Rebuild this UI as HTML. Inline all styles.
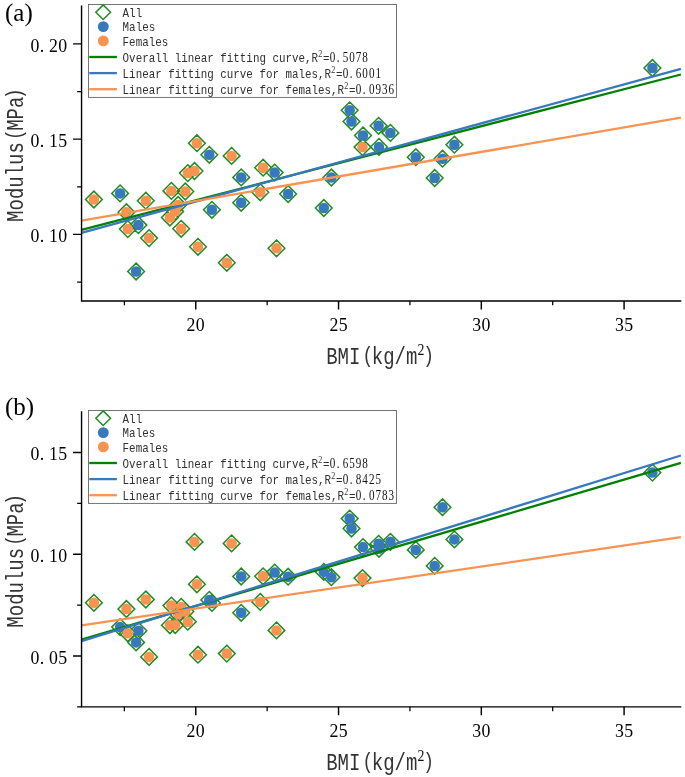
<!DOCTYPE html>
<html lang="en">
<head>
<meta charset="utf-8">
<title>Modulus vs BMI</title>
<style>
html,body{margin:0;padding:0;background:#fff;}
body{width:685px;height:777px;overflow:hidden;}
svg{display:block;}
text{font-family:"Liberation Serif", serif;fill:#000;}
.sp{stroke:#000;stroke-width:1.4;fill:none;stroke-linecap:square;}
.tk{stroke:#000;stroke-width:1.45;fill:none;}
.mt{stroke:#000;stroke-width:1.25;fill:none;}
.dm{fill:none;stroke:#228b22;stroke-width:1.5;stroke-linejoin:miter;}
.m{fill:#3878bc;}
.fm{fill:#f89352;}
.ln{fill:none;stroke-width:2.3;stroke-linecap:butt;}
.lg{fill:#fff;stroke:#666;stroke-width:0.9;}
.lt{font-family:"Liberation Mono", monospace;fill:#303030;}
.sup{font-family:"Liberation Serif", serif;font-size:10px;}
.dg{font-family:"Liberation Serif", serif;font-size:13.7px;fill:#111;}
.pr{font-size:22.5px;}
.s2{font-family:"Liberation Serif", serif;font-size:17.5px;fill:#111;}
.al{font-family:"Liberation Mono", monospace;fill:#333;}
</style>
</head>
<body>
<svg width="685" height="777" viewBox="0 0 685 777">
<rect width="685" height="777" fill="#fff"/>
<g id="plot-a">
<path class="dm" d="M93.9 191.15L102.25 199.5L93.9 207.85L85.55 199.5Z M120.1 185.05L128.45 193.4L120.1 201.75L111.75 193.4Z M126.4 203.85L134.75 212.2L126.4 220.55L118.05 212.2Z M127.8 220.75L136.15 229.1L127.8 237.45L119.45 229.1Z M136.1 263.15L144.45 271.5L136.1 279.85L127.75 271.5Z M138.4 216.75L146.75 225.1L138.4 233.45L130.05 225.1Z M145.8 192.35L154.15 200.7L145.8 209.05L137.45 200.7Z M149.1 229.75L157.45 238.1L149.1 246.45L140.75 238.1Z M169.9 209.15L178.25 217.5L169.9 225.85L161.55 217.5Z M171.4 182.55L179.75 190.9L171.4 199.25L163.05 190.9Z M175.2 203.05L183.55 211.4L175.2 219.75L166.85 211.4Z M178.1 196.65L186.45 205L178.1 213.35L169.75 205Z M181.2 220.45L189.55 228.8L181.2 237.15L172.85 228.8Z M185.3 183.15L193.65 191.5L185.3 199.85L176.95 191.5Z M187.8 164.75L196.15 173.1L187.8 181.45L179.45 173.1Z M194.5 162.65L202.85 171L194.5 179.35L186.15 171Z M196.9 134.85L205.25 143.2L196.9 151.55L188.55 143.2Z M198 238.45L206.35 246.8L198 255.15L189.65 246.8Z M209.3 146.45L217.65 154.8L209.3 163.15L200.95 154.8Z M211.9 201.45L220.25 209.8L211.9 218.15L203.55 209.8Z M226.8 254.45L235.15 262.8L226.8 271.15L218.45 262.8Z M231.6 147.55L239.95 155.9L231.6 164.25L223.25 155.9Z M241.2 169.05L249.55 177.4L241.2 185.75L232.85 177.4Z M241.2 194.45L249.55 202.8L241.2 211.15L232.85 202.8Z M260.3 183.95L268.65 192.3L260.3 200.65L251.95 192.3Z M263.1 159.35L271.45 167.7L263.1 176.05L254.75 167.7Z M274.7 164.25L283.05 172.6L274.7 180.95L266.35 172.6Z M276.5 239.95L284.85 248.3L276.5 256.65L268.15 248.3Z M288.1 185.65L296.45 194L288.1 202.35L279.75 194Z M323.8 199.65L332.15 208L323.8 216.35L315.45 208Z M331.4 169.15L339.75 177.5L331.4 185.85L323.05 177.5Z M349.7 101.95L358.05 110.3L349.7 118.65L341.35 110.3Z M351.5 113.15L359.85 121.5L351.5 129.85L343.15 121.5Z M362.5 138.75L370.85 147.1L362.5 155.45L354.15 147.1Z M363 127.15L371.35 135.5L363 143.85L354.65 135.5Z M378.6 117.45L386.95 125.8L378.6 134.15L370.25 125.8Z M379 138.55L387.35 146.9L379 155.25L370.65 146.9Z M390.4 124.55L398.75 132.9L390.4 141.25L382.05 132.9Z M415.8 148.85L424.15 157.2L415.8 165.55L407.45 157.2Z M434.7 169.65L443.05 178L434.7 186.35L426.35 178Z M442.5 150.35L450.85 158.7L442.5 167.05L434.15 158.7Z M454.4 136.35L462.75 144.7L454.4 153.05L446.05 144.7Z M652.4 59.65L660.75 68L652.4 76.35L644.05 68Z"/>
<g class="m">
<circle cx="120.1" cy="193.4" r="5.25"/>
<circle cx="136.1" cy="271.5" r="5.25"/>
<circle cx="138.4" cy="225.1" r="5.25"/>
<circle cx="209.3" cy="154.8" r="5.25"/>
<circle cx="211.9" cy="209.8" r="5.25"/>
<circle cx="241.2" cy="177.4" r="5.25"/>
<circle cx="241.2" cy="202.8" r="5.25"/>
<circle cx="274.7" cy="172.6" r="5.25"/>
<circle cx="288.1" cy="194" r="5.25"/>
<circle cx="323.8" cy="208" r="5.25"/>
<circle cx="331.4" cy="177.5" r="5.25"/>
<circle cx="349.7" cy="110.3" r="5.25"/>
<circle cx="351.5" cy="121.5" r="5.25"/>
<circle cx="363" cy="135.5" r="5.25"/>
<circle cx="378.6" cy="125.8" r="5.25"/>
<circle cx="379" cy="146.9" r="5.25"/>
<circle cx="390.4" cy="132.9" r="5.25"/>
<circle cx="415.8" cy="157.2" r="5.25"/>
<circle cx="434.7" cy="178" r="5.25"/>
<circle cx="442.5" cy="158.7" r="5.25"/>
<circle cx="454.4" cy="144.7" r="5.25"/>
<circle cx="652.4" cy="68" r="5.25"/>
</g>
<g class="fm">
<circle cx="93.9" cy="199.5" r="5.25"/>
<circle cx="126.4" cy="212.2" r="5.25"/>
<circle cx="127.8" cy="229.1" r="5.25"/>
<circle cx="145.8" cy="200.7" r="5.25"/>
<circle cx="149.1" cy="238.1" r="5.25"/>
<circle cx="169.9" cy="217.5" r="5.25"/>
<circle cx="171.4" cy="190.9" r="5.25"/>
<circle cx="175.2" cy="211.4" r="5.25"/>
<circle cx="178.1" cy="205" r="5.25"/>
<circle cx="181.2" cy="228.8" r="5.25"/>
<circle cx="185.3" cy="191.5" r="5.25"/>
<circle cx="187.8" cy="173.1" r="5.25"/>
<circle cx="194.5" cy="171" r="5.25"/>
<circle cx="196.9" cy="143.2" r="5.25"/>
<circle cx="198" cy="246.8" r="5.25"/>
<circle cx="226.8" cy="262.8" r="5.25"/>
<circle cx="231.6" cy="155.9" r="5.25"/>
<circle cx="260.3" cy="192.3" r="5.25"/>
<circle cx="263.1" cy="167.7" r="5.25"/>
<circle cx="276.5" cy="248.3" r="5.25"/>
<circle cx="362.5" cy="147.1" r="5.25"/>
</g>
<path class="ln" stroke="#008000" d="M81.55 229.8L680.9 74.5"/>
<path class="ln" stroke="#3878bc" d="M81.55 232.8L680.9 68.8"/>
<path class="ln" stroke="#f89352" d="M81.55 220.7L680.9 117.6"/>
<path class="sp" d="M81.55 6.1L81.55 300.95L680.6 300.95"/>
<path class="tk" d="M81.55 234.38h-8.5M81.55 139.12h-8.5M81.55 43.88h-8.5M195.77 300.95v8.5M338.54 300.95v8.5M481.32 300.95v8.5M624.09 300.95v8.5"/>
<path class="mt" d="M81.55 282h-4.4M81.55 186.75h-4.4M81.55 91.5h-4.4M124.38 300.95v4.3M267.16 300.95v4.3M409.93 300.95v4.3M552.7 300.95v4.3"/>
<g font-size="17.8">
<text x="30.4 39.65 48.9 58.15" y="242.28">0.10</text>
<text x="30.4 39.65 48.9 58.15" y="147.03">0.15</text>
<text x="30.4 39.65 48.9 58.15" y="51.77">0.20</text>
<text x="186.62 195.87" y="331.25">20</text>
<text x="329.39 338.64" y="331.25">25</text>
<text x="472.17 481.42" y="331.25">30</text>
<text x="614.94 624.19" y="331.25">35</text>
</g>
<text class="al" transform="translate(326.2 364.15) scale(0.7915 1)" font-size="24">BMI<tspan class="pr" dx="2.85" dy="-1.8">(</tspan><tspan dx="-1.95" dy="1.8">kg/m</tspan><tspan class="s2" dx="0.2" dy="-8.8">2</tspan><tspan class="pr" dx="-1.6" dy="7">)</tspan></text>
<text class="al" transform="translate(22.5 221.9) rotate(-90) scale(0.7915 1)" font-size="24">Modulus<tspan class="pr" dx="2.85" dy="-1.8">(</tspan><tspan dx="-1.95" dy="1.8">MPa</tspan><tspan class="pr" dx="-3.15" dy="-1.8">)</tspan></text>
<text x="5" y="21.2" font-size="25">(a)</text>
<g id="legend-a">
<rect class="lg" x="88.5" y="4.5" width="308" height="92.9"/>
<path class="dm" d="M103.2 4.85L110.55 12.2L103.2 19.55L95.85 12.2Z"/>
<circle class="m" cx="103.3" cy="26.6" r="5.45"/>
<circle class="fm" cx="103.3" cy="40.9" r="5.45"/>
<path class="ln" stroke="#008000" d="M89.3 57H116.9"/>
<path class="ln" stroke="#3878bc" d="M89.3 73.1H116.9"/>
<path class="ln" stroke="#f89352" d="M89.3 89.2H116.9"/>
<text class="lt" transform="translate(122.6 16.9) scale(0.8108 1)" font-size="13.4">All</text>
<text class="lt" transform="translate(122.6 31.3) scale(0.8108 1)" font-size="13.4">Males</text>
<text class="lt" transform="translate(122.6 45.7) scale(0.8108 1)" font-size="13.4">Females</text>
<text class="lt" transform="translate(122.6 61.6) scale(0.8108 1)" font-size="13.4">Overall linear fitting curve,R<tspan class="sup" dx="0.3" dy="-4.6">2</tspan><tspan x="247.03" dy="4.6">=</tspan><tspan class="dg" x="255.52 264.01 271.6 279.64 287.69 295.73">0.5078</tspan></text>
<text class="lt" transform="translate(122.6 77.8) scale(0.8108 1)" font-size="13.4">Linear fitting curve for males,R<tspan class="sup" dx="0.3" dy="-4.6">2</tspan><tspan x="263.11" dy="4.6">=</tspan><tspan class="dg" x="271.6 280.09 287.69 295.73 303.77 311.81">0.6001</tspan></text>
<text class="lt" transform="translate(122.6 94) scale(0.8108 1)" font-size="13.4">Linear fitting curve for females,R<tspan class="sup" dx="0.3" dy="-4.6">2</tspan><tspan x="279.19" dy="4.6">=</tspan><tspan class="dg" x="287.69 296.18 303.77 311.81 319.85 327.89">0.0936</tspan></text>
</g>
</g>
<g id="plot-b">
<path class="dm" d="M93.9 594.45L102.25 602.8L93.9 611.15L85.55 602.8Z M120.1 618.75L128.45 627.1L120.1 635.45L111.75 627.1Z M126.4 600.65L134.75 609L126.4 617.35L118.05 609Z M127.8 624.95L136.15 633.3L127.8 641.65L119.45 633.3Z M136.1 634.05L144.45 642.4L136.1 650.75L127.75 642.4Z M138.4 622.45L146.75 630.8L138.4 639.15L130.05 630.8Z M145.8 591.15L154.15 599.5L145.8 607.85L137.45 599.5Z M149.1 648.55L157.45 656.9L149.1 665.25L140.75 656.9Z M169.9 616.95L178.25 625.3L169.9 633.65L161.55 625.3Z M171.4 597.25L179.75 605.6L171.4 613.95L163.05 605.6Z M175.2 616.65L183.55 625L175.2 633.35L166.85 625Z M178.1 605.65L186.45 614L178.1 622.35L169.75 614Z M181.2 598.55L189.55 606.9L181.2 615.25L172.85 606.9Z M185.3 603.15L193.65 611.5L185.3 619.85L176.95 611.5Z M187.8 613.35L196.15 621.7L187.8 630.05L179.45 621.7Z M194.5 533.55L202.85 541.9L194.5 550.25L186.15 541.9Z M196.9 575.95L205.25 584.3L196.9 592.65L188.55 584.3Z M198 646.35L206.35 654.7L198 663.05L189.65 654.7Z M209.3 591.55L217.65 599.9L209.3 608.25L200.95 599.9Z M211.9 594.55L220.25 602.9L211.9 611.25L203.55 602.9Z M226.8 645.25L235.15 653.6L226.8 661.95L218.45 653.6Z M231.6 535.05L239.95 543.4L231.6 551.75L223.25 543.4Z M241.2 568.15L249.55 576.5L241.2 584.85L232.85 576.5Z M241.2 604.45L249.55 612.8L241.2 621.15L232.85 612.8Z M260.3 593.55L268.65 601.9L260.3 610.25L251.95 601.9Z M263.1 567.95L271.45 576.3L263.1 584.65L254.75 576.3Z M274.7 564.25L283.05 572.6L274.7 580.95L266.35 572.6Z M276.5 622.05L284.85 630.4L276.5 638.75L268.15 630.4Z M288.1 568.35L296.45 576.7L288.1 585.05L279.75 576.7Z M323.8 563.55L332.15 571.9L323.8 580.25L315.45 571.9Z M331.4 568.85L339.75 577.2L331.4 585.55L323.05 577.2Z M349.7 510.25L358.05 518.6L349.7 526.95L341.35 518.6Z M351.5 520.15L359.85 528.5L351.5 536.85L343.15 528.5Z M362.5 569.75L370.85 578.1L362.5 586.45L354.15 578.1Z M363 538.75L371.35 547.1L363 555.45L354.65 547.1Z M378.6 535.45L386.95 543.8L378.6 552.15L370.25 543.8Z M379 540.45L387.35 548.8L379 557.15L370.65 548.8Z M390.4 533.45L398.75 541.8L390.4 550.15L382.05 541.8Z M415.8 541.55L424.15 549.9L415.8 558.25L407.45 549.9Z M434.7 557.55L443.05 565.9L434.7 574.25L426.35 565.9Z M442.5 498.85L450.85 507.2L442.5 515.55L434.15 507.2Z M454.4 531.05L462.75 539.4L454.4 547.75L446.05 539.4Z M652.4 464.25L660.75 472.6L652.4 480.95L644.05 472.6Z"/>
<g class="m">
<circle cx="120.1" cy="627.1" r="5.25"/>
<circle cx="136.1" cy="642.4" r="5.25"/>
<circle cx="138.4" cy="630.8" r="5.25"/>
<circle cx="209.3" cy="599.9" r="5.25"/>
<circle cx="211.9" cy="602.9" r="5.25"/>
<circle cx="241.2" cy="576.5" r="5.25"/>
<circle cx="241.2" cy="612.8" r="5.25"/>
<circle cx="274.7" cy="572.6" r="5.25"/>
<circle cx="288.1" cy="576.7" r="5.25"/>
<circle cx="323.8" cy="571.9" r="5.25"/>
<circle cx="331.4" cy="577.2" r="5.25"/>
<circle cx="349.7" cy="518.6" r="5.25"/>
<circle cx="351.5" cy="528.5" r="5.25"/>
<circle cx="363" cy="547.1" r="5.25"/>
<circle cx="378.6" cy="543.8" r="5.25"/>
<circle cx="379" cy="548.8" r="5.25"/>
<circle cx="390.4" cy="541.8" r="5.25"/>
<circle cx="415.8" cy="549.9" r="5.25"/>
<circle cx="434.7" cy="565.9" r="5.25"/>
<circle cx="442.5" cy="507.2" r="5.25"/>
<circle cx="454.4" cy="539.4" r="5.25"/>
<circle cx="652.4" cy="472.6" r="5.25"/>
</g>
<g class="fm">
<circle cx="93.9" cy="602.8" r="5.25"/>
<circle cx="126.4" cy="609" r="5.25"/>
<circle cx="127.8" cy="633.3" r="5.25"/>
<circle cx="145.8" cy="599.5" r="5.25"/>
<circle cx="149.1" cy="656.9" r="5.25"/>
<circle cx="169.9" cy="625.3" r="5.25"/>
<circle cx="171.4" cy="605.6" r="5.25"/>
<circle cx="175.2" cy="625" r="5.25"/>
<circle cx="178.1" cy="614" r="5.25"/>
<circle cx="181.2" cy="606.9" r="5.25"/>
<circle cx="185.3" cy="611.5" r="5.25"/>
<circle cx="187.8" cy="621.7" r="5.25"/>
<circle cx="194.5" cy="541.9" r="5.25"/>
<circle cx="196.9" cy="584.3" r="5.25"/>
<circle cx="198" cy="654.7" r="5.25"/>
<circle cx="226.8" cy="653.6" r="5.25"/>
<circle cx="231.6" cy="543.4" r="5.25"/>
<circle cx="260.3" cy="601.9" r="5.25"/>
<circle cx="263.1" cy="576.3" r="5.25"/>
<circle cx="276.5" cy="630.4" r="5.25"/>
<circle cx="362.5" cy="578.1" r="5.25"/>
</g>
<path class="ln" stroke="#008000" d="M81.55 639.7L680.9 462.8"/>
<path class="ln" stroke="#3878bc" d="M81.55 641.2L680.9 455.5"/>
<path class="ln" stroke="#f89352" d="M81.55 625.3L680.9 537.2"/>
<path class="sp" d="M81.55 411.9L81.55 706.85L680.6 706.85"/>
<path class="tk" d="M81.55 655.98h-8.5M81.55 554.23h-8.5M81.55 452.48h-8.5M195.77 706.85v8.5M338.54 706.85v8.5M481.32 706.85v8.5M624.09 706.85v8.5"/>
<path class="mt" d="M81.55 706.85h-4.4M81.55 605.1h-4.4M81.55 503.35h-4.4M124.38 706.85v4.3M267.16 706.85v4.3M409.93 706.85v4.3M552.7 706.85v4.3"/>
<g font-size="17.8">
<text x="30.4 39.65 48.9 58.15" y="663.88">0.05</text>
<text x="30.4 39.65 48.9 58.15" y="562.12">0.10</text>
<text x="30.4 39.65 48.9 58.15" y="460.38">0.15</text>
<text x="186.62 195.87" y="737.15">20</text>
<text x="329.39 338.64" y="737.15">25</text>
<text x="472.17 481.42" y="737.15">30</text>
<text x="614.94 624.19" y="737.15">35</text>
</g>
<text class="al" transform="translate(326.2 770.05) scale(0.7915 1)" font-size="24">BMI<tspan class="pr" dx="2.85" dy="-1.8">(</tspan><tspan dx="-1.95" dy="1.8">kg/m</tspan><tspan class="s2" dx="0.2" dy="-8.8">2</tspan><tspan class="pr" dx="-1.6" dy="7">)</tspan></text>
<text class="al" transform="translate(22.5 627.65) rotate(-90) scale(0.7915 1)" font-size="24">Modulus<tspan class="pr" dx="2.85" dy="-1.8">(</tspan><tspan dx="-1.95" dy="1.8">MPa</tspan><tspan class="pr" dx="-3.15" dy="-1.8">)</tspan></text>
<text x="5" y="415.4" font-size="25">(b)</text>
<g id="legend-b">
<rect class="lg" x="88.5" y="410.5" width="308" height="92.9"/>
<path class="dm" d="M103.2 410.85L110.55 418.2L103.2 425.55L95.85 418.2Z"/>
<circle class="m" cx="103.3" cy="432.6" r="5.45"/>
<circle class="fm" cx="103.3" cy="446.9" r="5.45"/>
<path class="ln" stroke="#008000" d="M89.3 463H116.9"/>
<path class="ln" stroke="#3878bc" d="M89.3 479.1H116.9"/>
<path class="ln" stroke="#f89352" d="M89.3 495.2H116.9"/>
<text class="lt" transform="translate(122.6 422.9) scale(0.8108 1)" font-size="13.4">All</text>
<text class="lt" transform="translate(122.6 437.3) scale(0.8108 1)" font-size="13.4">Males</text>
<text class="lt" transform="translate(122.6 451.7) scale(0.8108 1)" font-size="13.4">Females</text>
<text class="lt" transform="translate(122.6 467.6) scale(0.8108 1)" font-size="13.4">Overall linear fitting curve,R<tspan class="sup" dx="0.3" dy="-4.6">2</tspan><tspan x="247.03" dy="4.6">=</tspan><tspan class="dg" x="255.52 264.01 271.6 279.64 287.69 295.73">0.6598</tspan></text>
<text class="lt" transform="translate(122.6 483.8) scale(0.8108 1)" font-size="13.4">Linear fitting curve for males,R<tspan class="sup" dx="0.3" dy="-4.6">2</tspan><tspan x="263.11" dy="4.6">=</tspan><tspan class="dg" x="271.6 280.09 287.69 295.73 303.77 311.81">0.8425</tspan></text>
<text class="lt" transform="translate(122.6 500) scale(0.8108 1)" font-size="13.4">Linear fitting curve for females,R<tspan class="sup" dx="0.3" dy="-4.6">2</tspan><tspan x="279.19" dy="4.6">=</tspan><tspan class="dg" x="287.69 296.18 303.77 311.81 319.85 327.89">0.0783</tspan></text>
</g>
</g>
</svg>
</body>
</html>
